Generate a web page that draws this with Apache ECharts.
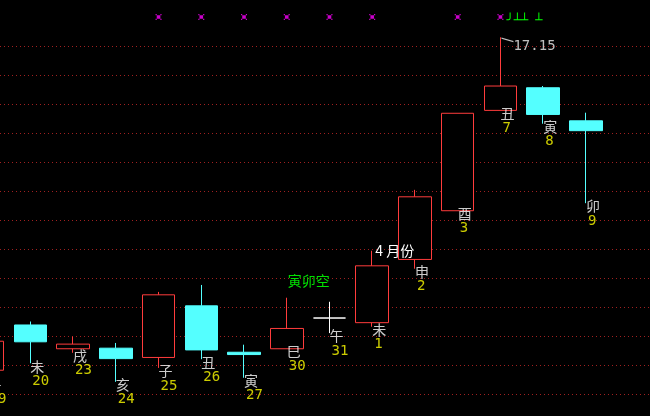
<!DOCTYPE html>
<html><head><meta charset="utf-8">
<script src="https://cdn.jsdelivr.net/npm/echarts@6/dist/echarts.min.js"></script>
<style>html,body{margin:0;padding:0;background:#000;}#c{width:650px;height:416px;}</style>
</head><body><div id="c"></div>
<script>
// day labels (x categories) and earthly-branch day names
const days     = ['19','20','23','24','25','26','27','30','31','1','2','3','7','8','9'];
const branches = ['午','未','戌','亥','子','丑','寅','巳','午','未','申','酉','丑','寅','卯'];
// OHLC values
const opens  = [11.41,12.19,11.78,11.79,11.63,12.52,11.72,11.78,12.31,12.23,13.32,14.16,15.89,16.28,15.71];
const closes = [11.91,11.90,11.86,11.61,12.71,11.76,11.68,12.13,12.31,13.21,14.40,15.84,16.31,15.82,15.54];
const lows   = [11.21,11.53,11.71,11.21,11.45,11.60,11.28,11.78,12.05,12.16,13.16,14.16,15.89,15.66,14.29];
const highs  = [11.97,12.25,11.99,11.88,12.76,12.88,11.85,12.66,12.59,13.47,14.52,15.84,17.15,16.31,15.85];
// days with a signal marker on top
const signalDays = ['25','26','27','30','31','1','3','7'];
const signalLevel = 17.5;
// annotations
const maxLabel = '17.15';
const monthNote = '4 月份';
const monthNoteDay = '1';
const gapNote = '寅卯空';
const gapNoteDay = '30';
const topNote = '╯┴┴ ┴';
const topNoteDay = '7';
// scales: visible x window (in day-slot units) and y range
const xMin = 0.29, xMax = 15.5;
const yMin = 11, yMax = 17.5, yInterval = 0.5;

const ohlc = days.map((d, i) => [i, opens[i], closes[i], lows[i], highs[i]]);
const idx = d => days.indexOf(d);
const maxIdx = highs.indexOf(Math.max.apply(null, highs));

const chart = echarts.init(document.getElementById('c'), null, {renderer: 'canvas'});
chart.setOption({
  backgroundColor: '#000',
  animation: false,
  grid: {left: 0, right: 0, top: 17, bottom: 22, containLabel: false},
  xAxis: {
    type: 'value', min: xMin, max: xMax,
    axisLine: {show: false}, axisTick: {show: false}, axisLabel: {show: false}, splitLine: {show: false}
  },
  yAxis: {
    type: 'value', min: yMin, max: yMax, interval: yInterval,
    axisLine: {show: false}, axisTick: {show: false}, axisLabel: {show: false},
    splitLine: {show: true, showMaxLine: false, lineStyle: {color: '#a02020', type: [1, 3], width: 1}}
  },
  series: [
    {
      type: 'candlestick', data: ohlc, barWidth: 33, silent: true,
      encode: {x: 0, y: [1, 2, 3, 4]},
      itemStyle: {
        color: '#000', color0: '#54ffff',
        borderColor: '#ff3c3c', borderColor0: '#54ffff', borderColorDoji: '#ffffff', borderWidth: 1
      },
      markPoint: {
        silent: true,
        data: [
          {
            coord: [maxIdx, highs[maxIdx]],
            symbol: 'path://M0,0L12,3.5L12,4.6L0,1.1Z', symbolSize: [12, 4.6], symbolOffset: [7, 2.6],
            itemStyle: {color: '#c0c0c0'},
            label: {show: true, formatter: maxLabel, position: 'inside', align: 'left', verticalAlign: 'middle',
              offset: [6, 6], color: '#c0c0c0', fontSize: 14, fontFamily: 'DejaVu Sans Mono'}
          },
          {
            coord: [idx(monthNoteDay), highs[idx(monthNoteDay)]],
            symbolSize: 0,
            label: {show: true, formatter: monthNote, position: 'inside', align: 'left', verticalAlign: 'middle',
              offset: [3, 0], color: '#ffffff', fontSize: 14, fontFamily: 'Noto Sans CJK SC'}
          },
          {
            coord: [idx(gapNoteDay), highs[idx(gapNoteDay)]],
            symbolSize: 0,
            label: {show: true, formatter: gapNote, position: 'inside', align: 'center', verticalAlign: 'middle',
              offset: [22, -17], color: '#00e000', fontSize: 14, fontFamily: 'Noto Sans CJK SC'}
          },
          {
            coord: [idx(topNoteDay), signalLevel],
            symbolSize: 0,
            label: {show: true, formatter: topNote, position: 'inside', align: 'left', verticalAlign: 'middle',
              offset: [6, 4], color: '#00ff00', fontSize: 12, fontFamily: 'DejaVu Sans Mono'}
          }
        ]
      }
    },
    {
      type: 'scatter', silent: true, clip: false,
      symbol: 'path://M0,0H1V1H0Z M4,0H5V1H4Z M0,4H1V5H0Z M4,4H5V5H4Z M1,1H4V4H1Z',
      symbolSize: 6, itemStyle: {color: '#ff00ff'},
      data: signalDays.map(d => [idx(d), signalLevel])
    },
    {
      type: 'scatter', silent: true, clip: false, symbolSize: 1,
      itemStyle: {color: 'rgba(0,0,0,0)'},
      data: lows.map((l, i) => [i, l]),
      label: {show: true, formatter: p => branches[p.dataIndex], position: 'inside', align: 'left',
        verticalAlign: 'middle', offset: [0, 3], color: '#ffffff', fontSize: 14, fontFamily: 'Noto Sans CJK SC'}
    },
    {
      type: 'scatter', silent: true, clip: false, symbolSize: 1,
      itemStyle: {color: 'rgba(0,0,0,0)'},
      data: lows.map((l, i) => [i, l]),
      label: {show: true, formatter: p => days[p.dataIndex], position: 'inside', align: 'left',
        verticalAlign: 'middle', offset: [2, 18], color: '#ffff00', fontSize: 14, fontFamily: 'DejaVu Sans Mono'}
    }
  ]
});
</script>
</body></html>
